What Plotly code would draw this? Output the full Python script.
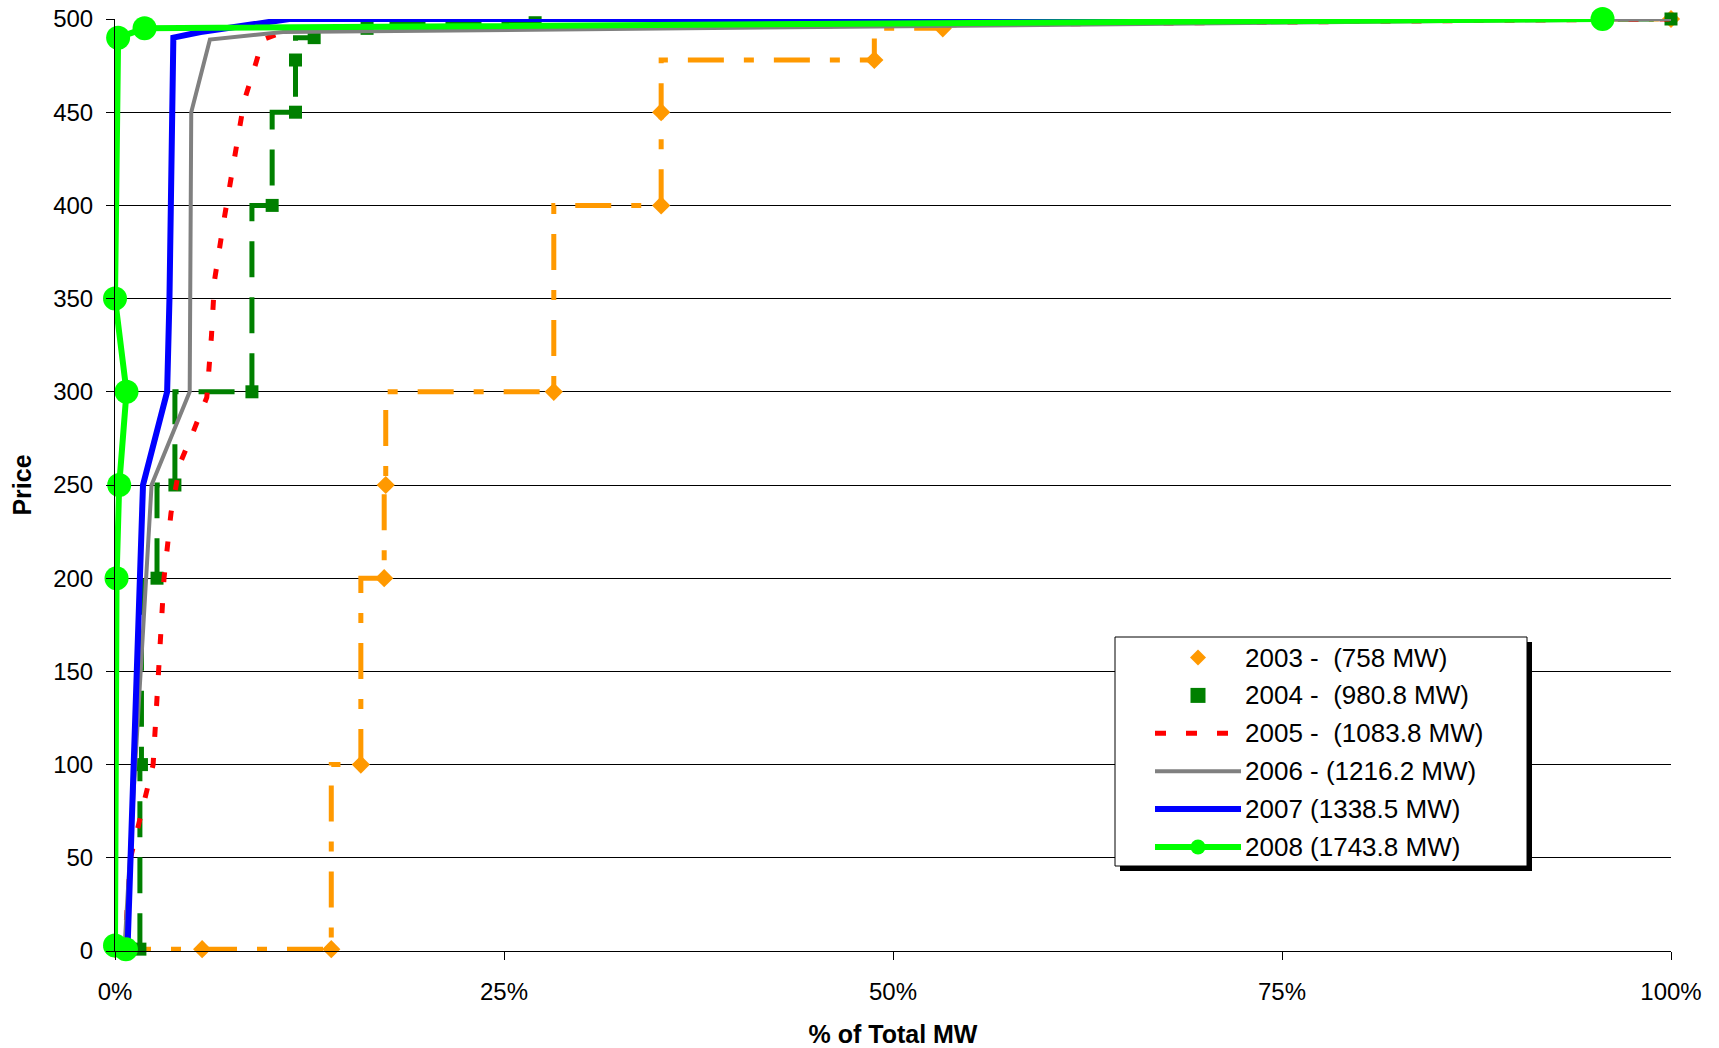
import plotly.graph_objects as go

# ---- data (x = % of total MW, y = price) ----
names = ["2003 -\u00a0 (758 MW)", "2004 -\u00a0 (980.8 MW)", "2005 -\u00a0 (1083.8 MW)",
         "2006 - (1216.2 MW)", "2007 (1338.5 MW)", "2008 (1743.8 MW)"]

x03 = [0.0, 5.6, 13.9, 15.8, 17.3, 17.4, 28.2, 35.1, 35.1, 48.8, 53.2, 100.0]
p03 = [1, 1, 1, 100, 200, 250, 300, 400, 450, 478, 495, 500]

x04 = [1.6, 1.7, 2.7, 3.85, 8.8, 10.1, 11.6, 11.6, 12.8, 16.2, 27.0, 100.0]
p04 = [1, 100, 200, 250, 300, 400, 450, 478, 490, 495, 498, 500]

x05 = [0.6, 1.0, 2.45, 2.8, 3.15, 3.6, 4.2, 5.0, 5.9, 6.2, 6.4, 7.0, 7.6, 8.3, 8.9, 9.5, 11.1, 100.0]
p05 = [0, 50, 100, 150, 200, 235, 262, 278, 297, 330, 360, 392, 423, 456, 472, 489, 494, 500]

x06 = [0.6, 2.0, 2.35, 4.8, 4.9, 6.1, 10.8, 100.0]
p06 = [0, 200, 250, 300, 450, 489, 493, 500]

x07 = [0.8, 1.55, 1.8, 3.35, 3.5, 3.75, 5.5, 11.2, 67.5]
p07 = [0, 200, 250, 300, 350, 490, 493, 500, 500]

x08 = [0.7, 0.0, 0.1, 0.27, 0.74, 0.0, 0.2, 1.9, 95.6]
p08 = [1, 3, 200, 250, 300, 350, 490, 495, 500]

y_ticks = [0, 50, 100, 150, 200, 250, 300, 350, 400, 450, 500]
x_ticks = [0, 25, 50, 75, 100]
x_tick_text = ["0%", "25%", "50%", "75%", "100%"]

ORANGE = "#FF9900"
DKGREEN = "#008000"
RED = "#FF0000"
GREY = "#808080"
BLUE = "#0000FF"
GREEN = "#00FF00"
FONT = "Arial, Liberation Sans, sans-serif"

fig = go.Figure()

# 2003 step line + diamonds
fig.add_trace(go.Scatter(x=x03, y=p03, mode="lines", line_shape="vh",
                         line=dict(color=ORANGE, width=5, dash="36px,20px,10px,20px"),
                         showlegend=False, hoverinfo="skip", cliponaxis=False))
fig.add_trace(go.Scatter(x=x03, y=p03, mode="markers", name=names[0], showlegend=False,
                         marker=dict(symbol="diamond", size=14, color=ORANGE),
                         cliponaxis=False))
# 2004 step line + squares
fig.add_trace(go.Scatter(x=x04, y=p04, mode="lines", line_shape="vh",
                         line=dict(color=DKGREEN, width=5, dash="36px,20px"),
                         showlegend=False, hoverinfo="skip", cliponaxis=False))
fig.add_trace(go.Scatter(x=x04, y=p04, mode="markers", name=names[1], showlegend=False,
                         marker=dict(symbol="square", size=13, color=DKGREEN),
                         cliponaxis=False))
# 2005
fig.add_trace(go.Scatter(x=x05, y=p05, mode="lines", name=names[2], showlegend=False,
                         line=dict(color=RED, width=5, dash="10px,21px"),
                         cliponaxis=False))
# 2006
fig.add_trace(go.Scatter(x=x06, y=p06, mode="lines", name=names[3], showlegend=False,
                         line=dict(color=GREY, width=4), cliponaxis=False))
# 2007
fig.add_trace(go.Scatter(x=x07, y=p07, mode="lines", name=names[4], showlegend=False,
                         line=dict(color=BLUE, width=6), cliponaxis=False))
# 2008
fig.add_trace(go.Scatter(x=x08, y=p08, mode="lines+markers", name=names[5], showlegend=False,
                         line=dict(color=GREEN, width=6),
                         marker=dict(symbol="circle", size=24, color=GREEN),
                         cliponaxis=False))

W, H = 1719, 1048
L, R, T, B = 115, 48, 19, 97
pw, ph = W - L - R, H - T - B


def px_x(v):
    return (v - L) / pw


def px_y(v):
    return (H - B - v) / ph


# ---- hand-built legend box (pixel layout) ----
lg_left, lg_top, lg_right, lg_bottom = 1115, 637, 1527, 866
sh = 5
shapes = []
shapes.append(dict(type="rect", xref="paper", yref="paper",
                   x0=px_x(lg_left + sh), x1=px_x(lg_right + sh),
                   y0=px_y(lg_bottom + sh), y1=px_y(lg_top + sh),
                   fillcolor="black", line=dict(width=0), layer="above"))
shapes.append(dict(type="rect", xref="paper", yref="paper",
                   x0=px_x(lg_left), x1=px_x(lg_right),
                   y0=px_y(lg_bottom), y1=px_y(lg_top),
                   fillcolor="white", line=dict(color="black", width=1), layer="above"))

row_y0, row_dy = 657.5, 37.9
sym_x0, sym_x1, sym_xc = 1155, 1241, 1198
text_x = 1243

styles = [
    dict(kind="marker", symbol="diamond", color=ORANGE),
    dict(kind="marker", symbol="square", color=DKGREEN),
    dict(kind="line", color=RED, width=5, dash="11px,20px"),
    dict(kind="line", color=GREY, width=4, dash="solid"),
    dict(kind="line", color=BLUE, width=6, dash="solid"),
    dict(kind="line+circle", color=GREEN, width=6, dash="solid"),
]

annotations = []
for i, (nm, st) in enumerate(zip(names, styles)):
    yc = row_y0 + i * row_dy
    if st["kind"].startswith("line"):
        shapes.append(dict(type="line", xref="paper", yref="paper",
                           x0=px_x(sym_x0), x1=px_x(sym_x1), y0=px_y(yc), y1=px_y(yc),
                           line=dict(color=st["color"], width=st["width"], dash=st["dash"]),
                           layer="above"))
    if st["kind"] == "line+circle":
        r = 7.5
        shapes.append(dict(type="circle", xref="paper", yref="paper",
                           x0=px_x(sym_xc - r), x1=px_x(sym_xc + r),
                           y0=px_y(yc + r), y1=px_y(yc - r),
                           fillcolor=st["color"], line=dict(width=0), layer="above"))
    if st["kind"] == "marker":
        if st["symbol"] == "diamond":
            h = 8
            path = "M {} {} L {} {} L {} {} L {} {} Z".format(
                px_x(sym_xc - h), px_y(yc), px_x(sym_xc), px_y(yc - h),
                px_x(sym_xc + h), px_y(yc), px_x(sym_xc), px_y(yc + h))
            shapes.append(dict(type="path", xref="paper", yref="paper", path=path,
                               fillcolor=st["color"], line=dict(width=0), layer="above"))
        else:
            h = 7.5
            shapes.append(dict(type="rect", xref="paper", yref="paper",
                               x0=px_x(sym_xc - h), x1=px_x(sym_xc + h),
                               y0=px_y(yc + h), y1=px_y(yc - h),
                               fillcolor=st["color"], line=dict(width=0), layer="above"))
    annotations.append(dict(xref="paper", yref="paper", x=px_x(text_x), y=px_y(yc),
                            xanchor="left", yanchor="middle", showarrow=False,
                            text=nm, font=dict(family=FONT, size=26, color="black")))

fig.update_layout(
    width=W, height=H,
    margin=dict(l=L, r=R, t=T, b=B, pad=0, autoexpand=False),
    paper_bgcolor="white", plot_bgcolor="white",
    font=dict(family=FONT, size=24, color="black"),
    showlegend=False,
    shapes=shapes,
    annotations=annotations,
    xaxis=dict(range=[0, 100], tickvals=x_ticks, ticktext=x_tick_text,
               showgrid=False, zeroline=False, showline=True, linecolor="black", linewidth=1,
               ticks="outside", ticklen=8, tickcolor="black", ticklabelstandoff=11,
               tickfont=dict(size=24), automargin=False,
               title=dict(text="<b>% of Total MW</b>", font=dict(size=25), standoff=23)),
    yaxis=dict(range=[0, 500], tickvals=y_ticks,
               showgrid=True, gridcolor="black", gridwidth=1, zeroline=False,
               showline=True, linecolor="black", linewidth=1,
               ticks="outside", ticklen=8, tickcolor="black", ticklabelstandoff=8,
               tickfont=dict(size=24), automargin=False,
               title=dict(text="<b>Price</b>", font=dict(size=25), standoff=14)),
)

fig.write_html("out.html", config={"displayModeBar": False},
               post_script=("document.documentElement.style.overflow='hidden';"
                            "document.body.style.overflow='hidden';"
                            "document.body.style.margin='0';"))
